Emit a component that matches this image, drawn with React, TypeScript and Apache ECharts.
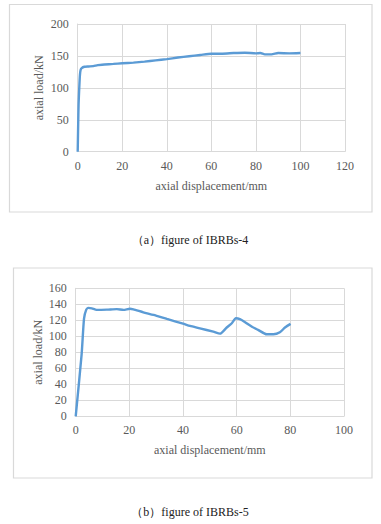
import React, { useEffect, useRef } from "react";
import * as echarts from "echarts";

const topXTicks = [0, 20, 40, 60, 80, 100, 120];
const topYTicks = [0, 50, 100, 150, 200];
const topSeries: [number, number][] = [
  [0, 0], [0.2, 40], [0.4, 75], [0.7, 100], [1.0, 120], [1.3, 128], [1.8, 131],
  [3, 133], [5, 133.5], [7, 134], [9, 135.5], [12, 136.5], [16, 137.5], [20, 138.5],
  [25, 139.5], [30, 141], [35, 143], [40, 145], [45, 147.5], [50, 149.5], [55, 151.5],
  [60, 153.5], [65, 153.5], [70, 154.5], [75, 155], [80, 154], [82, 154.5], [84, 152.5],
  [87, 152.5], [90, 154.5], [95, 154], [100, 154.5],
];

const botXTicks = [0, 20, 40, 60, 80, 100];
const botYTicks = [0, 20, 40, 60, 80, 100, 120, 140, 160];
const botSeries: [number, number][] = [
  [0, 0], [2.2, 77], [3.1, 122], [3.9, 133], [4.7, 135.5], [6, 135], [7.8, 133],
  [11.6, 133.3], [15.3, 134], [17.8, 133], [20.2, 134.5], [21.5, 133.7], [25.2, 130],
  [29, 126.7], [34, 121.7], [40, 115.8], [42.6, 113], [46.3, 110], [51.3, 105.8],
  [53.8, 103.3], [56.3, 111], [58.1, 116], [59.7, 122.5], [61.2, 121.5], [63, 118],
  [65.7, 112], [68, 108], [71.2, 102.5], [73.7, 102.5], [76.1, 105], [78, 111],
  [80.1, 115.5],
];

const xTitle = "axial displacement/mm";
const yTitle = "axial load/kN";
const captionA = "（a）figure of IBRBs-4";
const captionB = "（b）figure of IBRBs-5";

const FONT = "'Liberation Serif', 'Times New Roman', serif";
const GRID = "#d9d9d9";
const TXT = "#595959";
const LINE = "#5b9bd5";

function axisX(ticks: number[], gridIndex: number) {
  return {
    type: "value",
    gridIndex,
    min: ticks[0],
    max: ticks[ticks.length - 1],
    interval: ticks[1] - ticks[0],
    name: xTitle,
    nameLocation: "middle",
    nameGap: 28,
    nameMoveOverlap: false,
    nameTextStyle: { fontFamily: FONT, fontSize: 12, color: TXT },
    axisLine: { show: true, lineStyle: { color: GRID, width: 1 } },
    axisTick: { show: false },
    axisLabel: { fontFamily: FONT, fontSize: 12, color: TXT, margin: 8 },
    splitLine: { show: true, lineStyle: { color: GRID, width: 1 } },
  };
}

function axisY(ticks: number[], gridIndex: number, gap: number) {
  return {
    type: "value",
    gridIndex,
    min: ticks[0],
    max: ticks[ticks.length - 1],
    interval: ticks[1] - ticks[0],
    name: yTitle,
    nameLocation: "middle",
    nameGap: gap,
    nameMoveOverlap: false,
    nameTextStyle: { fontFamily: FONT, fontSize: 12, color: TXT },
    axisLine: { show: true, lineStyle: { color: GRID, width: 1 } },
    axisTick: { show: false },
    axisLabel: { fontFamily: FONT, fontSize: 12, color: TXT, margin: 9 },
    splitLine: { show: true, lineStyle: { color: GRID, width: 1 } },
  };
}

export default function App() {
  const ref = useRef<HTMLDivElement>(null);
  useEffect(() => {
    document.body.style.margin = "0";
    if (!ref.current) return;
    const chart = echarts.init(ref.current, undefined, { renderer: "svg" });
    chart.setOption({
      animation: false,
      backgroundColor: "#ffffff",
      grid: [
        { left: 77.7, right: 36, top: 24, height: 127.7 },
        { left: 75.7, right: 37, top: 288.3, height: 128 },
      ],
      xAxis: [axisX(topXTicks, 0), axisX(botXTicks, 1)],
      yAxis: [axisY(topYTicks, 0, 33), axisY(botYTicks, 1, 32)],
      graphic: [
        { type: "rect", shape: { x: 9.5, y: 4.5, width: 362.5, height: 207.5 }, style: { fill: "none", stroke: GRID, lineWidth: 1.2 }, z: -1 },
        { type: "rect", shape: { x: 13.5, y: 268, width: 358.5, height: 210 }, style: { fill: "none", stroke: GRID, lineWidth: 1.2 }, z: -1 },
        { type: "text", x: 190, y: 240, style: { text: captionA, fontFamily: FONT, fontSize: 12, fill: "#222", textAlign: "center", textVerticalAlign: "middle" } },
        { type: "text", x: 190, y: 512, style: { text: captionB, fontFamily: FONT, fontSize: 12, fill: "#222", textAlign: "center", textVerticalAlign: "middle" } },
      ],
      series: [
        { type: "line", xAxisIndex: 0, yAxisIndex: 0, data: topSeries, showSymbol: false, smooth: 0.2, lineStyle: { color: LINE, width: 2.4 } },
        { type: "line", xAxisIndex: 1, yAxisIndex: 1, data: botSeries, showSymbol: false, smooth: 0.2, lineStyle: { color: LINE, width: 2.4 } },
      ],
    });
    return () => chart.dispose();
  }, []);
  return <div ref={ref} style={{ width: 381, height: 524, position: "absolute", left: 0, top: 0 }} />;
}
